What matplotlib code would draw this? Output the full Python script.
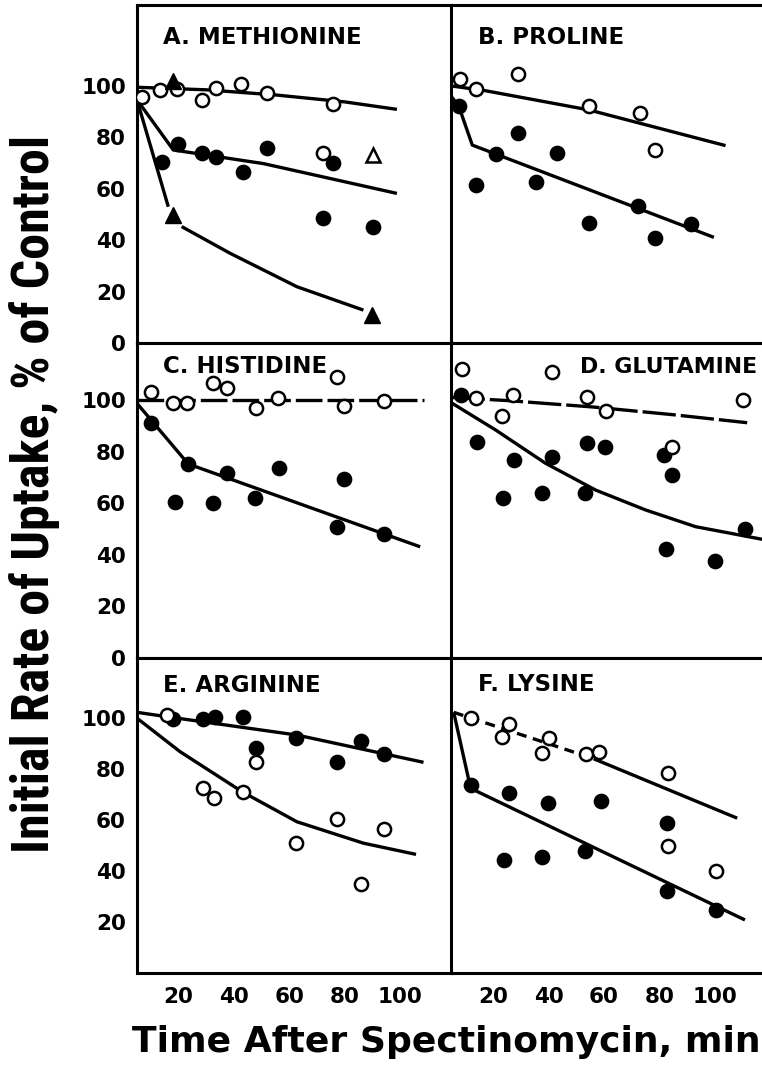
import numpy as np
import matplotlib.pyplot as plt

# ---- data (x = min, y = % of control) ----
# A. methionine
a_open_x = [6.7, 13.3, 19.3, 28.4, 33.5, 42.4, 51.8, 75.6, 72.0]
a_open_y = [95.8, 98.4, 98.7, 94.6, 99.1, 100.8, 97.4, 93.0, 73.8]
a_fill_x = [13.9, 19.7, 28.4, 33.5, 43.2, 52.0, 75.9, 72.0, 90.1]
a_fill_y = [70.5, 77.4, 73.8, 72.3, 66.7, 75.8, 69.9, 48.5, 45.3]
a_otri_x = [90.1]
a_otri_y = [73.2]
a_ftri_x = [17.9, 17.9, 89.7]
a_ftri_y = [102.0, 49.8, 10.9]
a_open_cx = [5, 30, 55, 80, 98.8]
a_open_cy = [99.5, 98.5, 96.5, 93.8, 90.9]
a_fill_cx = [5, 18.1, 50.6, 98.8]
a_fill_cy = [94.6, 75.1, 69.8, 58.2]
a_tri1_cx = [5, 16.3]
a_tri1_cy = [94.6, 53.0]
a_tri2_cx = [21.1, 38.6, 62.7, 86.7]
a_tri2_cy = [45.3, 34.9, 21.9, 12.8]

# B. proline
b_open_x = [7.9, 13.7, 29.1, 54.6, 72.9, 78.4]
b_open_y = [102.6, 98.7, 104.7, 92.2, 89.4, 75.1]
b_fill_x = [7.6, 13.7, 21.1, 29.1, 35.6, 42.9, 54.6, 72.4, 78.4, 91.3]
b_fill_y = [92.2, 61.5, 73.5, 81.8, 62.8, 74.1, 46.6, 53.3, 40.7, 46.3]
b_open_cx = [5, 17, 54.5, 103.9]
b_open_cy = [100.0, 98.2, 90.7, 76.8]
b_fill_cx = [5, 7.6, 12.5, 99.7]
b_fill_cy = [95.8, 92.2, 77.0, 41.1]

# C. histidine
c_open_x = [9.9, 18.1, 23.2, 32.5, 37.4, 48.0, 56.0, 77.1, 79.8, 94.2]
c_open_y = [103.2, 99.0, 99.0, 106.7, 104.5, 96.8, 100.7, 109.0, 97.7, 99.7]
c_fill_x = [9.9, 18.7, 23.5, 32.5, 37.4, 47.6, 56.4, 77.1, 79.8, 94.2]
c_fill_y = [91.0, 60.6, 75.2, 60.2, 71.6, 61.9, 73.5, 50.9, 69.3, 48.1]
c_open_cx = [5, 108.4]
c_open_cy = [100.0, 100.0]
c_fill_cx = [5, 23.5, 107.2]
c_fill_cy = [98.7, 75.2, 43.1]

# D. glutamine
d_open_x = [8.9, 13.7, 23.3, 27.1, 41.4, 54.0, 60.6, 84.4, 110.3]
d_open_y = [111.9, 100.7, 93.8, 101.9, 110.7, 101.0, 95.9, 81.9, 100.0]
d_fill_x = [8.6, 14.3, 23.5, 27.5, 37.5, 41.4, 53.1, 54.0, 60.3, 81.6, 84.4, 82.5, 100.1, 110.9]
d_fill_y = [101.9, 83.8, 61.9, 76.7, 64.1, 77.8, 63.8, 83.5, 81.7, 78.7, 70.9, 42.1, 37.7, 49.9]
d_open_cx = [5, 25, 56, 85, 111.7]
d_open_cy = [101.0, 99.8, 97.3, 94.3, 91.2]
d_fill_cx = [5.3, 20.9, 38.9, 57.0, 75.0, 93.1, 117.2]
d_fill_cy = [98.7, 88.4, 75.5, 65.1, 57.4, 50.9, 46.0]

# E. arginine
e_open_x = [15.7, 28.9, 32.8, 43.2, 48.0, 62.3, 77.3, 85.8, 94.2]
e_open_y = [101.2, 72.7, 68.5, 70.9, 82.6, 50.9, 60.4, 34.8, 56.5]
e_fill_x = [17.9, 28.7, 33.2, 43.2, 48.0, 62.3, 77.3, 85.8, 94.2]
e_fill_y = [99.6, 99.6, 100.5, 100.5, 88.4, 92.0, 82.9, 91.0, 85.8]
e_fill_cx = [5, 15.7, 62.7, 108.4]
e_fill_cy = [102.2, 100.5, 93.3, 82.6]
e_open_cx = [5, 20.5, 43.2, 62.7, 86.7, 105.7]
e_open_cy = [99.9, 86.8, 70.9, 59.3, 50.9, 46.5]

# F. lysine
f_open_x = [12.2, 23.3, 25.7, 37.7, 40.1, 53.4, 58.4, 83.2, 83.2, 100.6]
f_open_y = [100.1, 92.7, 97.5, 86.2, 92.0, 85.8, 86.8, 78.3, 49.9, 40.0]
f_fill_x = [12.2, 25.7, 23.9, 37.7, 39.9, 53.1, 58.8, 82.9, 82.9, 100.3]
f_fill_y = [73.7, 70.5, 44.3, 45.6, 66.5, 47.8, 67.5, 58.7, 32.2, 24.7]
f_open1_cx = [5.8, 55.8]
f_open1_cy = [102.2, 84.2]
f_open2_cx = [56.3, 108.1]
f_open2_cy = [84.0, 60.7]
f_fill_cx = [5.8, 11.9, 110.9]
f_fill_cy = [102.2, 72.4, 20.8]

yticks_top = [0, 20, 40, 60, 80, 100]
yticks_bot = [20, 40, 60, 80, 100]
xticks = [20, 40, 60, 80, 100]

W, H = 762.0, 1072.0
fig = plt.figure(figsize=(7.62, 10.72), dpi=100)


def box(x0, y0, x1, y1):
    return [x0 / W, 1 - y1 / H, (x1 - x0) / W, (y1 - y0) / H]


axA = fig.add_axes(box(137, 5, 451.5, 343))
axB = fig.add_axes(box(451.5, 5, 766, 343))
axC = fig.add_axes(box(137, 343, 451.5, 658))
axD = fig.add_axes(box(451.5, 343, 766, 658))
axE = fig.add_axes(box(137, 658, 451.5, 973))
axF = fig.add_axes(box(451.5, 658, 766, 973))

LW = 2.4
tickfont = dict(fontsize=15.5, fontweight='bold', family='DejaVu Sans')

for ax, ytop in [(axA, 131.5), (axB, 131.5), (axC, 122.1), (axD, 122.1),
                 (axE, 123.5), (axF, 123.5)]:
    ax.set_xlim(5, 118.5)
    ax.set_ylim(0, ytop)
    ax.tick_params(length=0)
    ax.set_xticks([])
    ax.set_yticks([])
    for s in ax.spines.values():
        s.set_linewidth(2.2)

for ax, ticks in [(axA, yticks_top), (axC, yticks_top), (axE, yticks_bot)]:
    ax.set_yticks(ticks)
    ax.set_yticklabels([str(t) for t in ticks], **tickfont)
    ax.tick_params(axis='y', pad=8)

for ax in (axE, axF):
    ax.set_xticks(xticks)
    ax.set_xticklabels([str(t) for t in xticks], **tickfont)
    ax.tick_params(axis='x', pad=10)


def curve(ax, x, y, **kw):
    ax.plot(x, y, color='black', lw=LW, solid_capstyle='butt', zorder=2, **kw)


def open_pts(ax, x, y):
    ax.plot(x, y, 'o', ms=9.5, mfc='white', mec='black', mew=1.8, ls='none', zorder=4)


def fill_pts(ax, x, y):
    ax.plot(x, y, 'o', ms=10.3, color='black', ls='none', zorder=3)


def label(ax, txt, x, y, size=16.5):
    ax.text(x, y, txt, transform=ax.transAxes, fontsize=size, fontweight='bold',
            ha='left', va='center')


# A
curve(axA, a_open_cx, a_open_cy)
curve(axA, a_fill_cx, a_fill_cy)
curve(axA, a_tri1_cx, a_tri1_cy)
curve(axA, a_tri2_cx, a_tri2_cy)
open_pts(axA, a_open_x, a_open_y)
fill_pts(axA, a_fill_x, a_fill_y)
axA.plot(a_otri_x, a_otri_y, '^', ms=10, mfc='white', mec='black', mew=1.8, ls='none', zorder=5)
axA.plot(a_ftri_x, a_ftri_y, '^', ms=11.5, color='black', ls='none', zorder=5)
label(axA, 'A. METHIONINE', 0.083, 0.905)

# B
curve(axB, b_open_cx, b_open_cy)
curve(axB, b_fill_cx, b_fill_cy)
open_pts(axB, b_open_x, b_open_y)
fill_pts(axB, b_fill_x, b_fill_y)
label(axB, 'B. PROLINE', 0.084, 0.905)

# C
curve(axC, c_open_cx, c_open_cy, dashes=(8, 1.5))
curve(axC, c_fill_cx, c_fill_cy)
open_pts(axC, c_open_x, c_open_y)
fill_pts(axC, c_fill_x, c_fill_y)
label(axC, 'C. HISTIDINE', 0.083, 0.924)

# D
curve(axD, d_open_cx, d_open_cy, dashes=(10, 1.5))
curve(axD, d_fill_cx, d_fill_cy)
fill_pts(axD, d_fill_x, d_fill_y)
open_pts(axD, d_open_x, d_open_y)
label(axD, 'D. GLUTAMINE', 0.408, 0.924, size=15.8)

# E
curve(axE, e_fill_cx, e_fill_cy)
curve(axE, e_open_cx, e_open_cy)
open_pts(axE, e_open_x, e_open_y)
fill_pts(axE, e_fill_x, e_fill_y)
label(axE, 'E. ARGININE', 0.083, 0.914)

# F
curve(axF, f_open1_cx, f_open1_cy, dashes=(3, 2))
curve(axF, f_open2_cx, f_open2_cy)
curve(axF, f_fill_cx, f_fill_cy)
open_pts(axF, f_open_x, f_open_y)
fill_pts(axF, f_fill_x, f_fill_y)
label(axF, 'F. LYSINE', 0.084, 0.917)

fig.text(0.045, 0.539, 'Initial Rate of Uptake, % of Control', rotation=90,
         ha='center', va='center', fontsize=37.5, fontweight='bold',
         family=['Roboto Condensed', 'Roboto', 'DejaVu Sans'])
fig.text(0.586, 0.028, 'Time After Spectinomycin, min', ha='center', va='center',
         fontsize=26, fontweight='bold')

fig.savefig('out.png', dpi=100)
